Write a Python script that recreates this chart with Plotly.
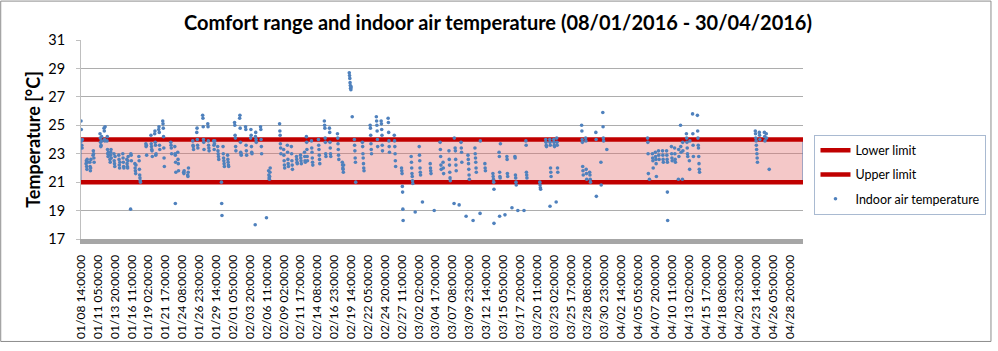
import plotly.graph_objects as go

# ---------------- data ----------------
tick_labels = [
    "01/08 14:00:00", "01/11 05:00:00", "01/13 20:00:00", "01/16 11:00:00", "01/19 02:00:00",
    "01/21 17:00:00", "01/24 08:00:00", "01/26 23:00:00", "01/29 14:00:00", "02/01 05:00:00",
    "02/03 20:00:00", "02/06 11:00:00", "02/09 02:00:00", "02/11 17:00:00", "02/14 08:00:00",
    "02/16 23:00:00", "02/19 14:00:00", "02/22 05:00:00", "02/24 20:00:00", "02/27 11:00:00",
    "03/02 02:00:00", "03/04 17:00:00", "03/07 08:00:00", "03/09 23:00:00", "03/12 14:00:00",
    "03/15 05:00:00", "03/17 20:00:00", "03/20 11:00:00", "03/23 02:00:00", "03/25 17:00:00",
    "03/28 08:00:00", "03/30 23:00:00", "04/02 14:00:00", "04/05 05:00:00", "04/07 20:00:00",
    "04/10 11:00:00", "04/13 02:00:00", "04/15 17:00:00", "04/18 08:00:00", "04/20 23:00:00",
    "04/23 14:00:00", "04/26 05:00:00", "04/28 20:00:00",
]
hours_per_tick = 63          # hourly records between two labelled categories
total_hours = 2694           # number of hourly records on the category axis

lower_limit = [21, 21]
upper_limit = [24, 24]
limit_hours = [0, total_hours]

# indoor air temperature: (first hourly record index, consecutive hourly readings)
cluster_start = [
    0, 19, 33, 45, 71, 86, 97, 108, 123, 141, 156, 171, 186, 185, 201, 216, 242, 261, 275, 290,
    305, 335, 350, 352, 361, 383, 398, 417, 432, 454, 473, 495, 510, 524, 530, 547, 573, 592, 614, 633,
    651, 650, 670, 692, 700, 741, 756, 770, 785, 804, 819, 834, 841, 860, 886, 908, 927, 957, 975, 1001,
    1012, 1020, 1050, 1079, 1102, 1120, 1146, 1169, 1196, 1232, 1247, 1262, 1274, 1303, 1318, 1340, 1351, 1373, 1392, 1411,
    1396, 1418, 1437, 1444, 1463, 1470, 1489, 1507, 1537, 1541, 1560, 1562, 1582, 1589, 1619, 1608, 1630, 1653, 1660, 1712,
    1734, 1749, 1750, 1764, 1775, 1773, 1868, 1883, 1898, 1921, 1940, 1947, 1962, 2114, 2121, 2132, 2143, 2155, 2170, 2185,
    2188, 2203, 2215, 2229, 2237, 2244, 2259, 2270, 2282, 2300, 2516, 2520, 2531, 2550, 2557, 2568,
]
cluster_temps = [
    [25.3, 24.7, 23.9, 23.6, 23.4, 24.0], [22.3, 22.5, 22.1, 21.9, 22.6, 22.4], [22.4, 22.1, 21.8, 22.0, 22.6],
    [22.9, 23.2, 23.0, 22.7, 22.4], [24.4, 24.1, 23.8, 23.5, 23.6, 23.9, 24.2], [24.8, 24.6, 24.0, 23.9, 24.9],
    [23.9, 24.2, 23.3, 23.0, 22.8, 23.1], [22.6, 22.4, 22.9, 23.1, 23.3, 22.7], [23.0, 22.5, 22.3, 22.1, 22.8],
    [22.9, 22.6, 22.2, 22.0, 22.4], [23.0, 22.7, 22.4, 22.1, 22.0], [22.6, 22.3, 22.1, 22.0, 22.5, 22.8],
    [23.0, 22.9, 22.5], [19.1], [22.3, 22.0, 21.8, 21.6, 22.2], [22.8, 22.5, 21.9, 21.5, 21.3, 21.1, 21.0],
    [23.7, 23.5, 23.6, 22.9], [24.3, 23.7, 23.5, 23.3, 23.2, 22.8], [24.4, 24.6, 23.8, 23.6, 22.9, 23.0],
    [24.7, 24.9, 24.5, 23.6, 23.3],
    [25.3, 25.1, 24.8, 24.2, 23.4, 22.7, 22.1], [23.8, 23.6, 23.4, 23.0], [23.5, 23.0, 22.9, 22.4, 21.7], [19.5],
    [23.1, 22.6, 22.3, 21.8], [21.7, 21.6, 21.8], [21.5, 21.4, 21.7, 22.0], [23.9, 23.6, 23.5, 23.3],
    [24.5, 24.8, 24.0, 23.6, 23.4], [25.7, 25.5, 24.9, 24.0, 23.8, 23.3], [25.1, 24.9, 23.9, 23.6, 23.4, 23.2],
    [23.9, 23.6, 23.3, 23.7, 23.9], [23.5, 23.2, 23.0, 22.8, 22.6], [21.0, 19.5, 18.65],
    [23.5, 23.0, 22.7, 22.5, 22.3, 22.1], [22.9, 22.6, 22.4, 22.2, 22.1], [25.2, 25.0, 24.3, 24.1, 23.5, 23.2],
    [25.5, 25.7, 24.8, 23.8, 23.1, 23.0, 22.9], [24.9, 24.7, 23.6, 23.2, 22.9], [24.1, 24.7, 24.3, 23.5, 23.1, 23.0],
    [24.2, 24.5, 24.0, 23.8], [18.0], [24.9, 24.7, 24.0, 23.5, 23.0], [18.5],
    [21.8, 21.5, 21.3, 21.2, 21.4, 21.7, 22.0], [25.1, 24.6, 24.3, 23.7, 23.4, 23.0], [23.3, 22.9, 22.5, 22.2, 22.0],
    [23.6, 23.1, 22.6, 22.3, 22.1], [23.5, 23.0, 22.5, 22.2, 21.9], [22.8, 22.6, 22.4, 22.3],
    [22.9, 22.7, 22.5, 22.3], [23.1, 22.8, 22.5, 22.4], [24.2, 23.8, 23.3, 22.8, 22.5],
    [23.9, 23.4, 23.1, 22.7, 22.4, 22.2], [24.0, 23.6, 23.3, 22.9, 22.6, 22.3],
    [25.3, 25.0, 24.8, 24.1, 23.8, 23.0, 22.8], [24.8, 24.5, 23.8, 23.4, 23.0, 22.8],
    [24.4, 24.1, 23.7, 23.3, 22.9, 22.6], [22.4, 22.2, 22.0, 21.9, 21.7, 22.2],
    [28.7, 28.5, 28.3, 28.0, 27.8, 27.6, 27.5, 27.7],
    [25.6], [24.0, 23.6, 23.2, 22.7, 22.4, 21.0], [23.8, 23.5, 23.0, 22.7, 22.3, 22.0, 21.8],
    [25.0, 24.8, 24.3, 23.7, 23.3, 23.0], [25.6, 25.3, 25.0, 24.6, 24.0, 23.5], [25.3, 25.1, 24.7, 24.3, 23.6, 23.2],
    [25.5, 25.2, 24.5, 23.9, 23.5, 23.1], [24.3, 23.9, 23.5, 23.0, 22.5, 22.1],
    [22.0, 21.8, 21.6, 20.7, 20.3, 19.1, 18.3], [22.8, 22.4, 22.0, 21.6, 21.4, 21.1, 20.9], [18.9],
    [23.5, 22.9, 22.5, 22.0, 21.7, 21.5], [19.6], [22.3, 22.0, 21.8, 21.6], [19.0],
    [23.8, 23.3, 22.8, 22.2, 21.9], [22.4, 22.0, 21.6], [23.2, 22.6, 22.2, 21.7, 21.3, 21.1], [19.5, 24.1], [19.4],
    [23.4, 23.2, 22.6, 22.2, 21.8], [23.8, 23.4, 23.1, 22.4], [18.6], [22.9, 22.6, 22.3, 21.9, 21.5, 21.2], [18.3],
    [23.4, 23.0, 22.7, 22.4, 22.0, 21.7], [18.8, 23.9], [22.3, 22.0, 21.8], [21.6, 21.4, 21.2, 21.0, 20.5], [18.1],
    [23.1, 22.8, 21.7, 21.4, 21.3, 23.7], [18.6], [18.7], [22.8, 22.6, 21.6, 21.4],
    [22.8, 22.7, 21.5, 21.3, 21.0, 20.8], [19.2], [19.0], [19.0], [23.9, 23.6, 21.7, 21.5, 21.3],
    [21.0, 20.8, 20.6, 20.5],
    [24.0, 23.8, 23.6, 23.5], [24.0, 23.8, 23.6, 22.0, 21.7, 21.4], [19.3], [24.0, 23.8, 23.6, 23.5],
    [24.1, 23.8, 23.6, 22.0, 21.7], [19.6], [25.0, 24.6, 24.0, 23.8, 22.1, 21.8, 21.5],
    [24.1, 23.9, 21.9, 21.6, 21.2], [21.7, 21.5, 21.2, 21.0], [24.5, 24.0, 20.0], [22.4, 20.8],
    [25.9, 24.9, 24.1, 23.9], [23.3], [24.1, 23.8, 23.0, 21.6], [21.2], [23.0, 22.7, 22.5, 22.0],
    [23.1, 22.8, 22.6, 22.3, 21.4], [23.2, 22.9, 22.6], [23.2, 22.9, 22.6, 22.4], [23.2, 22.9, 22.6, 22.4, 18.3],
    [20.3], [23.5, 23.0, 22.7, 22.5], [23.4, 23.0, 22.6, 22.4], [21.2, 23.3, 22.8], [25.0, 23.5, 23.1],
    [21.2, 23.8, 23.2], [24.4, 24.1, 23.8, 23.4, 23.0, 22.8], [22.5, 21.9, 23.9], [25.8, 24.4, 23.6, 22.8],
    [25.7, 24.6, 24.1, 23.6, 23.4, 22.8, 22.3, 21.9, 21.7], [24.6, 24.4, 24.1, 23.9],
    [23.6, 23.3, 23.0, 22.7, 22.4], [24.5, 24.3, 24.0], [24.5, 24.2, 23.9], [24.4, 24.1], [21.9],
]

# ---------------- build ----------------
obs_x, obs_y = [], []
for start, temps in zip(cluster_start, cluster_temps):
    for k, t in enumerate(temps):
        obs_x.append(start + k)
        obs_y.append(t)

tick_vals = [i * hours_per_tick for i in range(len(tick_labels))]

FONT = "Lato"
fig = go.Figure()

# comfort range band (area between the two limits)
fig.add_shape(type="rect", xref="x", yref="y",
              x0=limit_hours[0], x1=limit_hours[1], y0=lower_limit[0], y1=upper_limit[0],
              fillcolor="rgba(225,110,110,0.38)", line=dict(color="#4F81BD", width=1),
              layer="between")

fig.add_trace(go.Scatter(x=limit_hours, y=lower_limit, mode="lines", name="Lower limit",
                         line=dict(color="#C00000", width=4.5), legendgroup="a"))
fig.add_trace(go.Scatter(x=limit_hours, y=upper_limit, mode="lines", name="Upper limit",
                         line=dict(color="#C00000", width=4.5), legendgroup="b"))
fig.add_trace(go.Scatter(x=obs_x, y=obs_y, mode="markers", name="Indoor air temperature",
                         marker=dict(color="#4F81BD", size=3.6), legendgroup="c"))

# outer chart border
W, H = 998, 351
ml, mr, mt, mb = 81, 193, 40, 109
pw, ph = W - ml - mr, H - mt - mb
fig.add_shape(type="rect", xref="paper", yref="paper",
              x0=(0.5 - ml) / pw, x1=(993.5 - ml) / pw,
              y0=(ph + mt - 346) / ph, y1=(ph + mt - 0.5) / ph,
              line=dict(color="#8C8C8C", width=1), fillcolor="rgba(0,0,0,0)", layer="below")

fig.update_layout(
    width=W, height=H,
    margin=dict(l=ml, r=mr, t=mt, b=mb),
    paper_bgcolor="white", plot_bgcolor="white",
    font=dict(family=FONT, color="#000000"),
    title=dict(text="<b>Comfort range and indoor air temperature (08/01/2016 - 30/04/2016)</b>",
               x=0.499, xref="container", xanchor="center", y=0.935, yref="container", yanchor="middle",
               font=dict(size=20, family=FONT, color="#000000")),
    showlegend=True,
    legend=dict(x=(989 - ml) / pw, y=(mt + ph - 136) / ph, xanchor="right", yanchor="top",
                bordercolor="#A9BAD1", borderwidth=1, bgcolor="white",
                font=dict(size=12.5, family=FONT, color="#000000"),
                tracegroupgap=5, itemwidth=30),
)

fig.update_xaxes(range=[0, total_hours], tickmode="array", tickvals=tick_vals, ticktext=tick_labels,
                 tickangle=-90, tickfont=dict(size=12, family=FONT, color="#000000"),
                 showgrid=False, zeroline=False, showline=True, linecolor="#A6A6A6", linewidth=5,
                 ticks="", ticklabelstandoff=6)
fig.update_yaxes(range=[17, 31], tickmode="array", tickvals=[17, 19, 21, 23, 25, 27, 29, 31],
                 tickfont=dict(size=14.5, family=FONT, color="#000000"),
                 showgrid=True, gridcolor="#ADADAD", gridwidth=1, zeroline=False,
                 showline=True, linecolor="#BFBFBF", linewidth=1,
                 ticks="outside", ticklen=4, tickcolor="#BFBFBF", ticklabelstandoff=8,
                 title=dict(text="<b>Temperature [°C]</b>", font=dict(size=18, family=FONT, color="#000000"),
                            standoff=2))

fig.write_html("out.html")
